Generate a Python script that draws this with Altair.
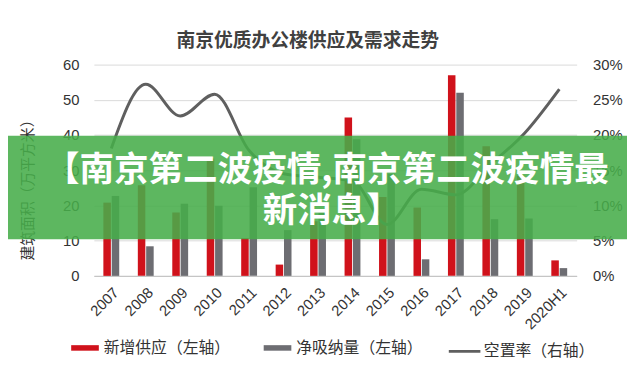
import altair as alt
import pandas as pd

years = ["2007", "2008", "2009", "2010", "2011", "2012", "2013",
         "2014", "2015", "2016", "2017", "2018", "2019", "2020H1"]
supply = [20.8, 25.7, 18.0, 33.3, 10.7, 3.2, 15.5, 45.0, 22.4, 19.4, 57.0, 36.8, 28.5, 4.4]
absorption = [22.7, 8.4, 20.5, 19.9, 25.2, 13.0, 18.0, 38.8, 29.0, 4.7, 52.0, 16.1, 16.3, 2.2]
vacancy = [18.1, 27.2, 22.7, 25.8, 17.8, 14.5, 14.0, 13.5, 7.3, 12.3, 11.5, 15.8, 20.3, 26.5]

series_names = ["新增供应（左轴）", "净吸纳量（左轴）"]
line_name = "空置率（右轴）"
title_text = "南京优质办公楼供应及需求走势"
y_title = "建筑面积（万平方米）"
banner_line1 = "【南京第二波疫情,南京第二波疫情最"
banner_line2 = "新消息】"
left_ticks = [0, 10, 20, 30, 40, 50, 60]
right_ticks = [0, 0.05, 0.10, 0.15, 0.20, 0.25, 0.30]

CJK = "Noto Sans CJK SC"
LAT = "Liberation Sans"

bars_df = pd.DataFrame({
    "year": years * 2,
    "series": [series_names[0]] * len(years) + [series_names[1]] * len(years),
    "value": supply + absorption,
})
line_df = pd.DataFrame({
    "year": years,
    "series": [line_name] * len(years),
    "vacancy": [v / 100 for v in vacancy],
})

x_scale = alt.Scale(paddingInner=0.54, paddingOuter=0.275)
x_axis = alt.Axis(labelAngle=-45, labelFont=LAT, labelFontSize=15, labelColor="#333333",
                  ticks=False, domain=True, domainColor="#bfbfbf", labelPadding=9, grid=False)

bars = alt.Chart(bars_df).mark_bar().encode(
    x=alt.X("year:N", sort=years, title=None, scale=x_scale, axis=x_axis),
    xOffset=alt.XOffset("series:N", sort=series_names,
                        scale=alt.Scale(domain=series_names, paddingInner=0.1, paddingOuter=0)),
    y=alt.Y("value:Q", scale=alt.Scale(domain=[0, 60], nice=False),
            axis=alt.Axis(values=left_ticks, grid=True, gridColor="#d9d9d9", domain=False,
                          ticks=False, labelPadding=15, labelFont=LAT, labelFontSize=15,
                          labelColor="#333333", title=y_title, titleFont=CJK, titleFontSize=15,
                          titleFontWeight="normal", titleColor="#333333", titleAngle=-90,
                          titleX=-67, titleY=123, titleAlign="center", titleBaseline="middle")),
    fill=alt.Fill("series:N", sort=series_names,
                  scale=alt.Scale(domain=series_names, range=["#d0121b", "#6d6d72"]),
                  legend=alt.Legend(title=None, orient="none", legendX=-23, legendY=273,
                                    direction="horizontal", columns=3, columnPadding=33,
                                    symbolType="M-1,-0.2H1V0.2H-1Z", symbolSize=784,
                                    symbolStrokeWidth=0, labelFont=CJK, labelFontSize=16,
                                    labelColor="#333333", labelLimit=300, labelOffset=5,
                                    padding=0)),
)

line = alt.Chart(line_df).mark_line(strokeWidth=3, interpolate="monotone").encode(
    x=alt.X("year:N", sort=years, title=None, scale=x_scale, axis=x_axis),
    y=alt.Y("vacancy:Q", scale=alt.Scale(domain=[0, 0.3], nice=False),
            axis=alt.Axis(orient="right", values=right_ticks, format=".0%", grid=False,
                          domain=False, ticks=False, labelPadding=16, labelFont=LAT,
                          labelFontSize=15, labelColor="#333333", title=None)),
    stroke=alt.Stroke("series:N", scale=alt.Scale(domain=[line_name], range=["#5f5f5f"]),
                      legend=alt.Legend(title=None, orient="none", legendX=358, legendY=273,
                                        symbolType="stroke", symbolSize=1024,
                                        symbolStrokeWidth=3, labelFont=CJK, labelFontSize=16,
                                        labelColor="#333333", labelLimit=300, labelOffset=2,
                                        padding=0)),
)

one = pd.DataFrame({"k": [0]})
banner = alt.Chart(one).mark_rect(color="#47ad4a", opacity=0.88).encode(
    x=alt.value(-87), x2=alt.value(540), y=alt.value(72), y2=alt.value(177)
)
text1 = alt.Chart(one).mark_text(font=CJK, fontSize=35, fontWeight="bold", color="white",
                                 align="center", baseline="middle").encode(
    x=alt.value(236), y=alt.value(107), text=alt.value(banner_line1)
)
text2 = alt.Chart(one).mark_text(font=CJK, fontSize=35, fontWeight="bold", color="white",
                                 align="center", baseline="middle").encode(
    x=alt.value(241), y=alt.value(148), text=alt.value(banner_line2)
)

chart = alt.layer(bars, line, banner, text1, text2).resolve_scale(
    y="independent"
).properties(
    width=489, height=214,
    title=alt.Title(title_text, font=CJK, fontSize=19, fontWeight="bold", color="#404040",
                    anchor="middle", dx=-28, offset=7),
    autosize=alt.AutoSizeParams(type="none"),
    padding={"left": 87, "top": 55, "right": 51, "bottom": 91},
).configure_view(stroke=None)

chart.save("out.html", embed_options={"renderer": "svg", "actions": False})
